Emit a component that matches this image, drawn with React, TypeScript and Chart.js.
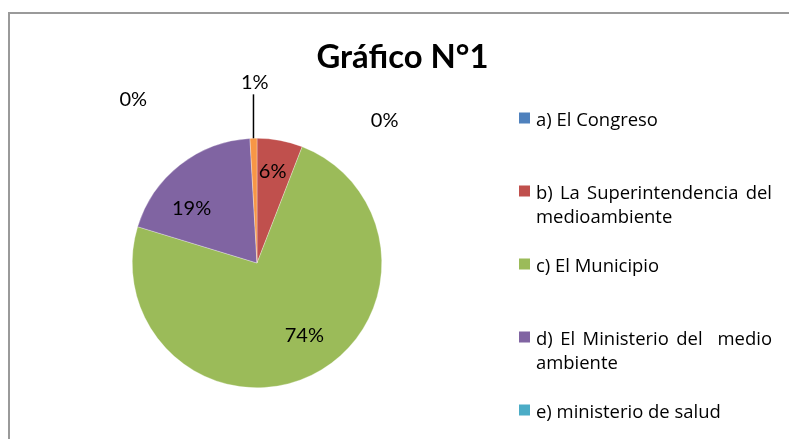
import React, { useEffect, useRef } from "react";
import { Chart, ArcElement, PieController } from "chart.js";

Chart.register(ArcElement, PieController);

const title = "Gráfico N°1";
const categories = [
  "a) El Congreso",
  "b) La Superintendencia del medioambiente",
  "c) El Municipio",
  "d) El Ministerio del  medio ambiente",
  "e) ministerio de salud",
  "f) otro",
];
const values = [0, 5.9, 73.8, 19.4, 0, 0.9];
const colors = ["#4F81BD", "#C0504D", "#9BBB59", "#8064A2", "#4BACC6", "#F79646"];
const legendShownCount = 5;

// label placement: angle (deg, clockwise from top) and radius factor
const labelPlacement = [
  { angle: 41.7, rf: 1.538 },
  { angle: 9.7, rf: 0.746 },
  { angle: 146.5, rf: 0.688 },
  { angle: 310.3, rf: 0.687 },
  { angle: 322.9, rf: 1.645 },
  { angle: 359.3, rf: 1.448, leader: 1.352 },
];

const LABEL_FONT = '20px "Lato"';
const TITLE_FAMILY = '"Lato", sans-serif';
const LEGEND_FAMILY = '"Open Sans", "Noto Sans", sans-serif';

function fitFont(
  ctx: CanvasRenderingContext2D,
  weight: string,
  family: string,
  sample: string,
  targetW: number
): string {
  ctx.font = `${weight} 20px ${family}`;
  const w = ctx.measureText(sample).width;
  const size = (20 * targetW) / w;
  return `${weight} ${size.toFixed(2)}px ${family}`;
}

function drawCentered(ctx: CanvasRenderingContext2D, text: string, cx: number, cy: number) {
  const m = ctx.measureText(text);
  const asc = m.actualBoundingBoxAscent;
  const desc = m.actualBoundingBoxDescent;
  ctx.textAlign = "center";
  ctx.textBaseline = "alphabetic";
  ctx.fillText(text, cx, cy + (asc - desc) / 2);
}

function wrap(ctx: CanvasRenderingContext2D, text: string, maxW: number): string[] {
  const words = text.split(" ");
  const lines: string[] = [];
  let cur = "";
  for (let i = 0; i < words.length; i++) {
    const w = words[i];
    const cand = cur === "" ? w : cur + " " + w;
    if (cur !== "" && w !== "" && ctx.measureText(cand.trimEnd()).width > maxW) {
      lines.push(cur.trimEnd());
      cur = w;
    } else {
      cur = cand;
    }
  }
  if (cur) lines.push(cur.trimEnd());
  return lines;
}

function drawJustified(ctx: CanvasRenderingContext2D, line: string, x: number, y: number, maxW: number) {
  const parts = line.split(/( +)/).filter((p) => p.length > 0);
  const spaceCount = parts.filter((p) => p.startsWith(" ")).reduce((s, p) => s + p.length, 0);
  const natural = ctx.measureText(line).width;
  const extra = spaceCount > 0 ? (maxW - natural) / spaceCount : 0;
  const spaceW = ctx.measureText(" ").width;
  let cx = x;
  ctx.textAlign = "left";
  for (const p of parts) {
    if (p.startsWith(" ")) {
      cx += p.length * (spaceW + extra);
    } else {
      ctx.fillText(p, cx, y);
      cx += ctx.measureText(p).width;
    }
  }
}

const decorPlugin = {
  id: "decor",
  beforeDraw(chart: any) {
    const ctx: CanvasRenderingContext2D = chart.ctx;
    ctx.save();
    ctx.fillStyle = "#ffffff";
    ctx.fillRect(0, 0, chart.width, chart.height);
    ctx.fillStyle = "#9a9a9a";
    ctx.fillRect(8, 12, 2, chart.height - 12);
    ctx.fillRect(8, 12, chart.width - 8, 2);
    ctx.restore();
  },
  afterDraw(chart: any) {
    const ctx: CanvasRenderingContext2D = chart.ctx;
    const meta = chart.getDatasetMeta(0);
    const data: number[] = chart.data.datasets[0].data;
    const total = data.reduce((s, v) => s + v, 0);
    ctx.save();

    // title
    ctx.fillStyle = "#000";
    ctx.font = fitFont(ctx, "bold", TITLE_FAMILY, title, 172);
    ctx.textAlign = "center";
    ctx.textBaseline = "alphabetic";
    ctx.fillText(title, 402.5, 68);

    // data labels
    ctx.font = LABEL_FONT;
    meta.data.forEach((arc: any, i: number) => {
      const p = labelPlacement[i];
      const R = arc.outerRadius;
      const a = (p.angle * Math.PI) / 180;
      const lx = arc.x + Math.sin(a) * p.rf * R;
      const ly = arc.y - Math.cos(a) * p.rf * R;
      const txt = Math.round((data[i] / total) * 100) + "%";
      ctx.fillStyle = "#000";
      drawCentered(ctx, txt, lx, ly);
      if (p.leader) {
        const mid = (arc.startAngle + arc.endAngle) / 2;
        const ex = arc.x + Math.cos(mid) * R;
        const ey = arc.y + Math.sin(mid) * R;
        ctx.strokeStyle = "#000";
        ctx.lineWidth = 1.5;
        ctx.beginPath();
        ctx.moveTo(ex, ey);
        ctx.lineTo(ex, arc.y - p.leader * R);
        ctx.stroke();
      }
    });

    // legend
    ctx.font = fitFont(ctx, "normal", LEGEND_FAMILY, categories[0], 122);
    const textX = 536;
    const maxW = 236;
    for (let i = 0; i < legendShownCount; i++) {
      const top = 112.5 + i * 73;
      ctx.fillStyle = colors[i];
      ctx.fillRect(519, top, 11, 11);
      ctx.fillStyle = "#000";
      const lines = wrap(ctx, categories[i], maxW);
      lines.forEach((ln, j) => {
        const by = top + 13.5 + j * 24;
        if (j < lines.length - 1) drawJustified(ctx, ln, textX, by, maxW);
        else {
          ctx.textAlign = "left";
          ctx.fillText(ln, textX, by);
        }
      });
    }
    ctx.restore();
  },
};

export default function App() {
  const ref = useRef<HTMLCanvasElement | null>(null);
  useEffect(() => {
    if (!ref.current) return;
    const chart = new Chart(ref.current, {
      type: "pie",
      data: {
        labels: categories,
        datasets: [
          {
            data: values,
            backgroundColor: colors,
            borderColor: "rgba(255,255,255,0.6)",
            borderWidth: 0.5,
          },
        ],
      },
      options: {
        responsive: false,
        animation: false,
        events: [],
        layout: { padding: { left: 132, top: 138, right: 407, bottom: 51 } },
        plugins: {
          legend: { display: false },
          tooltip: { enabled: false },
          title: { display: false },
        },
      },
      plugins: [decorPlugin],
    });
    return () => chart.destroy();
  }, []);
  return (
    <div style={{ position: "absolute", left: 0, top: 0, width: 789, height: 439 }}>
      <canvas ref={ref} width={789} height={439} style={{ display: "block" }} />
    </div>
  );
}
